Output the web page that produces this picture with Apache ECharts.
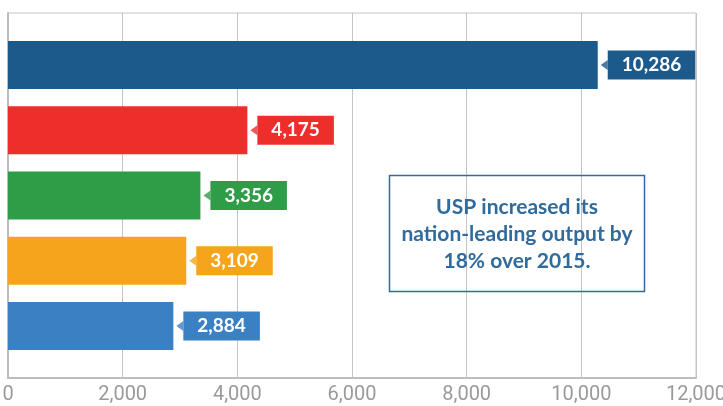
<!DOCTYPE html>
<html>
<head>
<meta charset="utf-8">
<script src="https://cdn.jsdelivr.net/npm/echarts@6/dist/echarts.min.js"></script>
<style>
  html, body { margin: 0; padding: 0; background: #fff; }
  #chart { width: 723px; height: 406px; }
</style>
</head>
<body>
<div id="chart"></div>
<script>
// data
const categories = ['1st', '2nd', '3rd', '4th', '5th'];
const values = [10286, 4175, 3356, 3109, 2884];
const barColors = ['#1d5a8c', '#ee2e2a', '#2f9c48', '#f7a41d', '#3b80c2'];
const xTicks = { min: 0, max: 12000, interval: 2000 };
const noteText = 'USP increased its\nnation-leading output by\n18% over 2015.';

var myChart = echarts.init(document.getElementById('chart'));

const fmt = (v) => v.toLocaleString('en-US');

myChart.setOption({
  animation: false,
  grid: [
    // frame + ticks
    { left: 8, right: 27, top: 13, bottom: 28, show: true, borderColor: '#c4c4c4', borderWidth: 1, outerBoundsMode: 'none' },
    // bars sit in an inner band
    { left: 8, right: 27, top: 32.5, bottom: 47.5, outerBoundsMode: 'none' }
  ],
  xAxis: [
    {
      gridIndex: 0,
      type: 'value',
      min: xTicks.min,
      max: xTicks.max,
      interval: xTicks.interval,
      axisLine: { show: true, lineStyle: { color: '#bdbdbd', width: 2 } },
      axisTick: { show: false },
      splitLine: { show: true, lineStyle: { color: '#c4c4c4', width: 1 } },
      axisLabel: {
        color: '#9a9a9a',
        fontFamily: 'Roboto',
        fontSize: 20,
        margin: 7,
        hideOverlap: false,
        formatter: (v) => fmt(v)
      }
    },
    {
      gridIndex: 1,
      type: 'value',
      min: xTicks.min,
      max: xTicks.max,
      show: false
    }
  ],
  yAxis: [
    {
      gridIndex: 0,
      type: 'value',
      min: 0,
      max: 1,
      axisLine: { show: true, lineStyle: { color: '#bdbdbd', width: 2 } },
      axisTick: { show: false },
      axisLabel: { show: false },
      splitLine: { show: false }
    },
    {
      gridIndex: 1,
      type: 'category',
      inverse: true,
      data: categories,
      show: false
    }
  ],
  series: [
    {
      type: 'bar',
      xAxisIndex: 1,
      yAxisIndex: 1,
      barWidth: 48,
      data: values.map((v, i) => ({
        value: v,
        itemStyle: { color: barColors[i] },
        label: { backgroundColor: barColors[i] }
      })),
      label: {
        show: true,
        position: 'right',
        distance: 10,
        color: '#fff',
        fontFamily: 'Lato',
        fontWeight: 'bold',
        fontSize: 19,
        lineHeight: 21,
        padding: [4, 14],
        formatter: (p) => fmt(p.value)
      }
    },
    {
      // little pointers on the label boxes
      type: 'scatter',
      xAxisIndex: 1,
      yAxisIndex: 1,
      symbol: 'triangle',
      symbolRotate: 90,
      symbolSize: [10, 7],
      symbolOffset: [6.5, 0],
      z: 5,
      data: values.map((v, i) => ({
        value: [v, categories[i]],
        itemStyle: { color: barColors[i] }
      }))
    }
  ],
  graphic: [
    {
      type: 'rect',
      shape: { x: 389.5, y: 175.5, width: 255, height: 116 },
      style: { fill: 'none', stroke: '#2f6b9c', lineWidth: 1.5 },
      z: 10
    },
    {
      type: 'text',
      x: 517,
      y: 234,
      z: 10,
      style: {
        text: noteText,
        fill: '#2f6b9c',
        font: 'bold 21px Lato',
        lineHeight: 27,
        align: 'center',
        verticalAlign: 'middle'
      }
    }
  ]
});

window.addEventListener('resize', () => myChart.resize());
</script>
</body>
</html>
